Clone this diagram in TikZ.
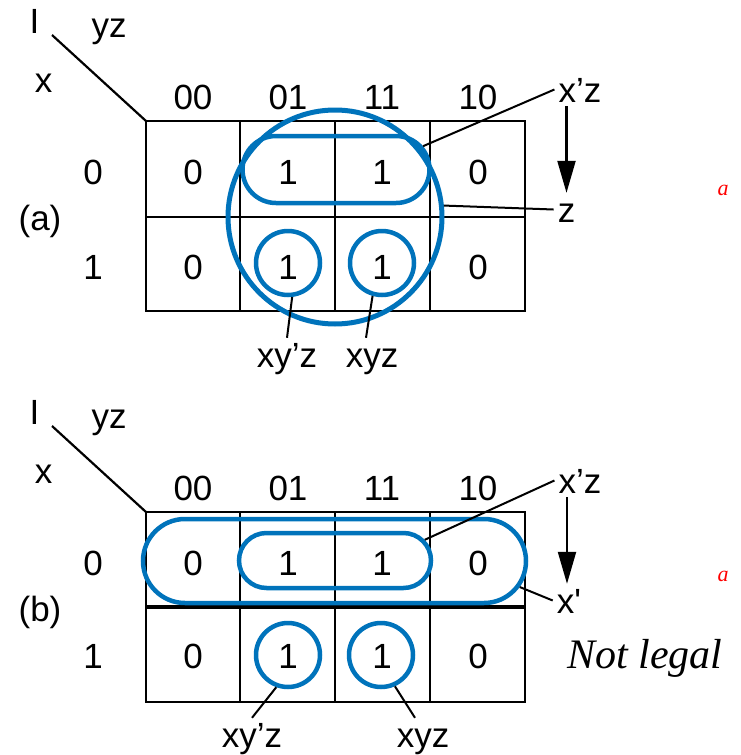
\documentclass[tikz,border=0pt]{standalone}
\usepackage{fontspec}
\setmainfont{Liberation Sans}
\newfontfamily\tnr{Liberation Serif}
\usetikzlibrary{arrows.meta,shapes.misc}
\definecolor{kblue}{RGB}{0,115,187}

\begin{document}
\begin{tikzpicture}[
    x=1pt, y=-1pt,
    font=\fontsize{35}{37}\selectfont,
    txt/.style={anchor=base, inner sep=0pt},
    lbl/.style={anchor=base, inner sep=4pt, text height=25pt, text depth=0pt},
    grid/.style={draw=black, line width=2.2pt},
    heavy/.style={draw=black, line width=3.6pt},
    loopc/.style={circle, draw=kblue, line width=4.5pt, minimum size=64pt, inner sep=0pt},
    pill/.style={rounded rectangle, draw=kblue, line width=4.5pt, inner sep=0pt},
    lead/.style={draw=black, line width=2pt},
    down/.style={draw=black, line width=2.2pt, -{Triangle[length=32pt,width=18pt]}},
    redmark/.style={text=red, inner sep=0pt, font=\tnr\itshape\fontsize{22}{24}\selectfont}
  ]
  \useasboundingbox (0,0) rectangle (740,755);

  % (a) map with the legal cover
  \node[txt] (aI) at (34.5,33) {I};
  \node[txt] (ayz) at (109,37) {yz};
  \node[txt] (ax) at (43.5,92) {x};
  \node[txt] (atag) at (40,230) {(a)};
  \coordinate (adiag) at (52,35);
  \coordinate (acorner) at (146,121);
  \draw[grid] (adiag) -- (acorner);
  \foreach \hx/\ht in {193/00,288/01,382/11,478/10}
    \node[txt] at (\hx,109) {\ht};
  \node[txt] (ar0) at (93,184) {0};
  \node[txt] (ar1) at (93,279) {1};
  \draw[grid] (acorner) rectangle (525,311);
  \foreach \gx in {240,335,430}
    \draw[grid] (\gx,121) -- (\gx,311);
  \draw[grid] (146,217) -- (525,217);
  \node[txt] (a00) at (193,184) {0};
  \node[txt] (a01) at (288,184) {1};
  \node[txt] (a11) at (382,184) {1};
  \node[txt] (a10) at (478,184) {0};
  \node[txt] (a100) at (193,279) {0};
  \node[txt] (a101) at (288,279) {1};
  \node[txt] (a111) at (382,279) {1};
  \node[txt] (a110) at (478,279) {0};
  \node[loopc, minimum size=214pt, line width=5pt] (az) at (335,217) {};
  \node[pill, minimum width=187pt, minimum height=67pt] (axz) at (336,169.5) {};
  \node[loopc] (axyz1) at (288,263) {};
  \node[loopc] (axyz2) at (382,263) {};
  \node[lbl] (lxz) at (580,102) {x’z};
  \node[lbl] (lz) at (566.5,222) {z};
  \node[lbl] (lxy1) at (287,367) {xy’z};
  \node[lbl] (lxy2) at (372,367) {xyz};
  \draw[lead] (axz.15) -- (lxz.west);
  \draw[lead] (az.6) -- (lz.west);
  \draw[down] (lxz.south -| lz) -- (lz.north);
  \draw[lead] (axyz1.-83) -- (lxy1.north);
  \draw[lead] (axyz2.-106) -- ([xshift=-6pt]lxy2.north);
  \node[redmark] (ra) at (723,190) {a};

  % (b) map with the cover that is not legal
  \node[txt] (bI) at (34.5,424) {I};
  \node[txt] (byz) at (109,428) {yz};
  \node[txt] (bx) at (43.5,483) {x};
  \node[txt] (btag) at (40,621) {(b)};
  \coordinate (bdiag) at (52,426);
  \coordinate (bcorner) at (146,512);
  \draw[grid] (bdiag) -- (bcorner);
  \foreach \hx/\ht in {193/00,288/01,382/11,478/10}
    \node[txt] at (\hx,500) {\ht};
  \node[txt] (br0) at (93,575) {0};
  \node[txt] (br1) at (93,668) {1};
  \draw[grid] (bcorner) rectangle (525,702);
  \foreach \gx in {240,335,430}
    \draw[grid] (\gx,512) -- (\gx,702);
  \draw[heavy] (146,607) -- (525,607);
  \node[txt] (b00) at (193,575) {0};
  \node[txt] (b01) at (288,575) {1};
  \node[txt] (b11) at (382,575) {1};
  \node[txt] (b10) at (478,575) {0};
  \node[txt] (b100) at (193,668) {0};
  \node[txt] (b101) at (288,668) {1};
  \node[txt] (b111) at (382,668) {1};
  \node[txt] (b110) at (478,668) {0};
  \node[pill, minimum width=383pt, minimum height=84pt] (bxp) at (334.5,561) {};
  \node[pill, minimum width=192pt, minimum height=55pt] (bxz) at (335,560.5) {};
  \node[loopc] (bxyz1) at (288,655) {};
  \node[loopc] (bxyz2) at (381,655) {};
  \node[lbl] (lbxz) at (580,493) {x’z};
  \node[lbl] (lbx) at (569,613) {x\textquotesingle};
  \node[lbl] (lbxy1) at (252,747) {xy’z};
  \node[lbl] (lbxy2) at (423,747) {xyz};
  \draw[lead] (bxz.13) -- (lbxz.west);
  \draw[lead] (bxp.-8) -- (lbx.west);
  \draw[down] ([xshift=-2pt]lbxz.south -| lbx) -- ([xshift=-2pt]lbx.north);
  \draw[lead] (bxyz1.-110) -- (lbxy1.north);
  \draw[lead] (bxyz2.-66) -- ([xshift=-8pt]lbxy2.north);
  \node[redmark] (rb) at (723,576) {a};
  \node[anchor=base, inner sep=0pt, font=\tnr\itshape\fontsize{42}{46}\selectfont] (nl) at (645,668) {Not legal};
\end{tikzpicture}
\end{document}
